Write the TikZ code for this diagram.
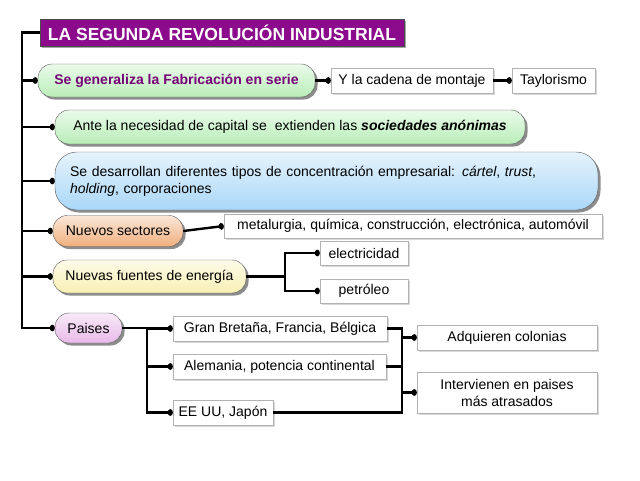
\documentclass[tikz,border=0pt]{standalone}
\usepackage{fontspec}
\setmainfont{Liberation Sans}
\usetikzlibrary{arrows.meta, positioning, shadows, calc}

\definecolor{moradoTit}{RGB}{140,10,140}
\definecolor{moradoTxt}{RGB}{120,0,120}
\definecolor{verdeP}{RGB}{185,238,185}
\definecolor{azulP}{RGB}{170,215,248}
\definecolor{naranjaP}{RGB}{240,175,125}
\definecolor{amarilloP}{RGB}{248,240,180}
\definecolor{rosaP}{RGB}{232,185,232}

\begin{document}
\begin{tikzpicture}[x=1pt, y=-1pt,
  every node/.style={font=\fontsize{14}{17}\selectfont},
  pill/.style={rectangle, rounded corners=14pt, draw=black!65, inner xsep=10pt,
               drop shadow={shadow xshift=2.5pt, shadow yshift=-2.5pt, fill=black!90}},
  hoja/.style={rectangle, draw=black!30, fill=white, minimum height=25pt, inner xsep=5pt,
               drop shadow={shadow xshift=1.5pt, shadow yshift=-1.5pt, fill=black!30}},
  conn/.style={line width=2.4pt, black},
  tip/.style={conn, -{Circle[length=5pt, width=6.5pt]}},
]
  \useasboundingbox (0,0) rectangle (640,480);

  % ── Título ───────────────────────────────────────
  \node[draw=black!70, fill=moradoTit, text=white, minimum width=364pt, minimum height=27pt,
        font=\fontsize{17.5}{20}\selectfont\bfseries,
        drop shadow={shadow xshift=2pt, shadow yshift=-2pt, fill=black!70}]
        (titulo) at (222,32.5) {LA SEGUNDA REVOLUCIÓN INDUSTRIAL};

  % ── Ideas principales (píldoras) ─────────────────
  \node[pill, top color=verdeP!30, bottom color=verdeP, minimum width=277pt, minimum height=33pt,
        text=moradoTxt, font=\fontsize{14}{17}\selectfont\bfseries]
        (serie) at (176.5,80.5) {Se generaliza la Fabricación en serie};
  \node[pill, top color=verdeP!30, bottom color=verdeP, minimum width=470pt, minimum height=34pt]
        (capital) at (290,127) {Ante la necesidad de capital se\ \ extienden las \textbf{\textit{sociedades anónimas}}};
  \node[pill, rounded corners=22pt, top color=azulP!30, bottom color=azulP, minimum height=58pt,
        inner xsep=15pt, text width=513pt, align=left]
        (concentra) at (326.5,181) {Se desarrollan diferentes tipos de concentración empresarial: \textit{cártel}, \textit{trust},\\
                                    \textit{holding}, corporaciones};
  \node[pill, top color=naranjaP!30, bottom color=naranjaP, minimum width=130pt, minimum height=31pt]
        (sectores) at (118,231) {Nuevos sectores};
  \node[pill, top color=amarilloP!30, bottom color=amarilloP, minimum width=193pt, minimum height=33pt]
        (energia) at (149.5,276.5) {Nuevas fuentes de energía};
  \node[pill, top color=rosaP!30, bottom color=rosaP, minimum width=67pt, minimum height=30pt]
        (paises) at (88.5,328) {Paises};

  % ── Detalles (cajas) ─────────────────────────────
  \node[hoja, minimum width=162pt] (cadena)  at (412,80.5)   {Y la cadena de montaje};
  \node[hoja, minimum width=83pt]  (taylor)  at (553.5,80.5) {Taylorismo};
  \node[hoja, minimum width=378pt, minimum height=24pt] (metal) at (413,226)
        {metalurgia, química, construcción, electrónica, automóvil};
  \node[hoja, minimum width=88pt, minimum height=24pt] (elec)   at (364,253) {electricidad};
  \node[hoja, minimum width=88pt, minimum height=24pt] (petro)  at (364,291) {petróleo};
  \node[hoja, minimum width=214pt] (gb)      at (280,328.5)  {Gran Bretaña, Francia, Bélgica};
  \node[hoja, minimum width=213pt] (ale)     at (279.5,366.5) {Alemania, potencia continental};
  \node[hoja, minimum width=100pt] (eeuu)    at (223,412.5)  {EE UU, Japón};
  \node[hoja, minimum width=180pt] (colonias) at (507,337.5) {Adquieren colonias};
  \node[hoja, minimum width=180pt, minimum height=41pt, align=center] (atrasados) at (507,392.5)
        {Intervienen en paises\\ más atrasados};

  % ── Eje principal ────────────────────────────────
  \coordinate (ejeA) at (22,32.5);
  \coordinate (ejeB) at (22,328);
  \draw[tip] (titulo.west) -- (ejeA) -- (ejeB) -- (paises.west);
  \draw[tip] (ejeA |- serie.west)     -- (serie.west);
  \draw[tip] (ejeA |- capital.west)   -- (capital.west);
  \draw[tip] (ejeA |- concentra.west) -- (concentra.west);
  \draw[tip] (ejeA |- sectores.west)  -- (sectores.west);
  \draw[tip] (ejeA |- energia.west)   -- (energia.west);

  % ── Ramas ────────────────────────────────────────
  \draw[tip] (serie.east)    -- (cadena.west);
  \draw[tip] (cadena.east)   -- (taylor.west);
  \draw[tip] (sectores.east) -- (metal.west);

  \coordinate (nodoE) at (285,276.5);
  \draw[conn] (energia.east) -- (nodoE);
  \draw[tip]  (nodoE) |- (elec.west);
  \draw[tip]  (nodoE) |- (petro.west);

  \coordinate (nodoP) at (147,328);
  \draw[tip] (paises.east) -- (nodoP) |- (eeuu.west);
  \draw[tip] (nodoP |- gb.west)  -- (gb.west);
  \draw[tip] (nodoP |- ale.west) -- (ale.west);

  \coordinate (nodoC) at (402,328.5);
  \draw[conn] (gb.east) -- (nodoC) |- (eeuu.east);
  \draw[conn] (ale.east) -- (nodoC |- ale.east);
  \draw[tip]  (nodoC |- colonias.west)  -- (colonias.west);
  \draw[tip]  (nodoC |- atrasados.west) -- (atrasados.west);

\end{tikzpicture}
\end{document}
